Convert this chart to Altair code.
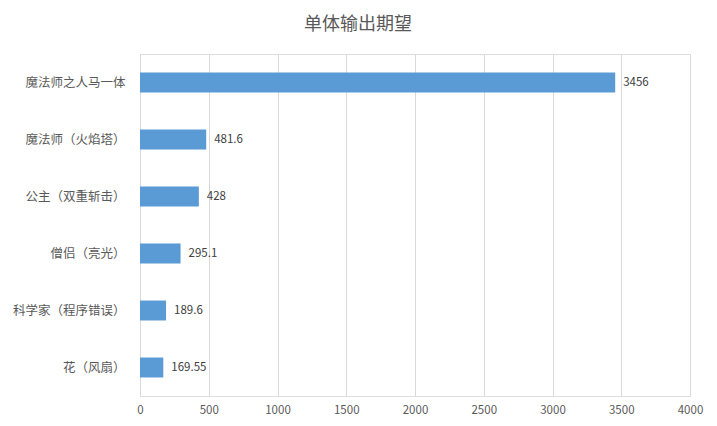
import altair as alt
import pandas as pd

categories = ["魔法师之人马一体", "魔法师（火焰塔）", "公主（双重斩击）", "僧侣（亮光）", "科学家（程序错误）", "花（风扇）"]
values = [3456, 481.6, 428, 295.1, 189.6, 169.55]
labels = ["3456", "481.6", "428", "295.1", "189.6", "169.55"]

df = pd.DataFrame({"cat": categories, "val": values, "lab": labels})

FONT = "Noto Sans CJK SC"

y_enc = alt.Y("cat:N", sort=categories, title=None,
              scale=alt.Scale(paddingInner=0.65, paddingOuter=0.325),
              axis=alt.Axis(ticks=False, domain=False, labelPadding=15, labelFontSize=12.5,
                            labelColor="#595959", labelFont=FONT, grid=False))
x_enc = alt.X("val:Q", title=None, scale=alt.Scale(domain=[0, 4000], nice=False),
              axis=alt.Axis(values=list(range(0, 4001, 500)), format="d", ticks=False, domain=False,
                            grid=True, gridColor="#d9d9d9", labelColor="#595959", labelFlush=False,
                            labelFontSize=11.5, labelFont=FONT, labelPadding=8))

bars = alt.Chart(df).mark_bar(color="#5B9BD5").encode(x=x_enc, y=y_enc)
text = alt.Chart(df).mark_text(align="left", baseline="middle", dx=8, fontSize=11.5,
                               color="#404040", font=FONT).encode(
    x=alt.X("val:Q"), y=alt.Y("cat:N", sort=categories), text="lab:N")

chart = (bars + text).properties(
    width=550, height=342,
    title=alt.TitleParams("单体输出期望", fontSize=18, color="#595959", font=FONT,
                          fontWeight="normal", anchor="middle", dx=-57, offset=20),
    autosize=alt.AutoSizeParams(type="none"),
    padding={"left": 140, "top": 54, "right": 27, "bottom": 30},
).configure_view(stroke=None).configure(background="white")

chart.save("out.html", embed_options={"renderer": "svg", "actions": False})
